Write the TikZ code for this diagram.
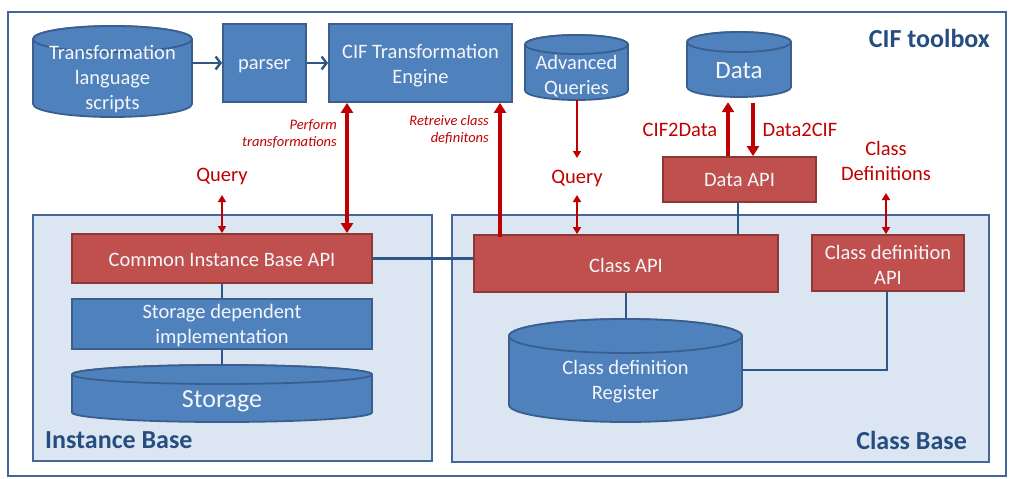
\documentclass[tikz,border=0pt]{standalone}
\usepackage{fontspec}
\setmainfont{Carlito}
\usetikzlibrary{arrows.meta}
\definecolor{bfill}{HTML}{4F81BD}
\definecolor{bline}{HTML}{3A5F8E}
\definecolor{rfill}{HTML}{C0504D}
\definecolor{rline}{HTML}{8C3836}
\definecolor{pfill}{HTML}{DCE6F2}
\definecolor{pline}{HTML}{43679A}
\definecolor{conn}{HTML}{2F5689}
\definecolor{darr}{HTML}{C00000}
\definecolor{ttl}{HTML}{264D7F}
\definecolor{wtxt}{HTML}{F4F6FA}
\newcommand\dbcyl[6]{%
  \pgfmathsetmacro\cylcx{(#2+#4)/2}%
  \pgfmathsetmacro\cylrx{(#4-#2)/2}%
  \pgfmathsetmacro\cylyt{#3+#6}%
  \pgfmathsetmacro\cylyb{#5-#6}%
  \pgfmathsetmacro\cylcy{(#3+#5)/2}%
  \pgfmathsetmacro\cylw{#4-#2}%
  \pgfmathsetmacro\cylh{#5-#3}%
  \filldraw[cylbody] (#2,\cylyt) -- (#2,\cylyb) arc[start angle=180,end angle=0,x radius=\cylrx,y radius=#6] -- (#4,\cylyt) arc[start angle=0,end angle=-180,x radius=\cylrx,y radius=#6] -- cycle;
  \draw[cylbody] (\cylcx,\cylyt) ellipse[x radius=\cylrx,y radius=#6];
  \node[inner sep=0pt,minimum width=\cylw pt,minimum height=\cylh pt] (#1) at (\cylcx,\cylcy) {};
}
\tikzset{
  cylbody/.style={fill=bfill,draw=bline,line width=1.8pt},
  bbox/.style={fill=bfill,draw=bline,line width=1.8pt},
  rbox/.style={fill=rfill,draw=rline,line width=1.8pt},
  panel/.style={fill=pfill,draw=pline,line width=1.8pt},
  wtext/.style={text=wtxt,font=\fontsize{20.5}{25}\selectfont,align=center,inner sep=0pt},
  rtext/.style={text=darr,font=\fontsize{20.5}{25}\selectfont,align=center,inner sep=0pt},
  itext/.style={text=darr,font=\fontsize{14.5}{17}\selectfont\itshape,align=right,inner sep=0pt},
  ttext/.style={text=ttl,font=\fontsize{26}{30}\selectfont\bfseries,inner sep=0pt},
  bconn/.style={draw=conn,line width=2.2pt},
  barrow/.style={draw=conn,line width=2.4pt,-{Straight Barb[length=5pt,width=13pt]}},
  thick red/.style={draw=darr,line width=3.5pt},
  thin red/.style={draw=darr,line width=1.6pt},
  tkt/.tip={Triangle[length=10pt,width=12pt]},
  tnt/.tip={Triangle[length=7pt,width=8pt]},
}
\begin{document}
\begin{tikzpicture}[x=1pt,y=-1pt]
\useasboundingbox (0,0) rectangle (1009,479);
% outer frame
\node[draw=pline,line width=2.5pt,minimum width=998pt,minimum height=464pt,inner sep=0pt] (frame) at (507,244) {};
\node[ttext,anchor=east] (toolbox) at (990,38) {CIF toolbox};
% panels
\node[panel,minimum width=399pt,minimum height=246pt,inner sep=0pt] (ipanel) at (232.5,338) {};
\node[panel,minimum width=537pt,minimum height=247pt,inner sep=0pt] (cpanel) at (720.5,338.5) {};
\node[ttext,anchor=west] (iblabel) at (45,440) {Instance Base};
\node[ttext,anchor=east] (cblabel) at (967,440) {Class Base};
% top row
\dbcyl{tls}{33}{26}{192}{117}{13}
\node[wtext] (tlst) at (112.5,79) {Transformation\\language\\scripts};
\node[bbox,minimum width=83pt,minimum height=78pt,inner sep=0pt] (parser) at (264.5,63) {};
\node[wtext] (parsert) at (264.5,66) {parser};
\node[bbox,minimum width=183pt,minimum height=78pt,inner sep=0pt] (engine) at (420.5,63) {};
\node[wtext] (enginet) at (420.5,66) {CIF Transformation\\Engine};
\dbcyl{advq}{525}{35}{628}{100}{9.5}
\node[wtext] (advqt) at (576.5,76) {Advanced\\Queries};
\dbcyl{data}{687}{32}{791}{97}{10}
\node[wtext,font=\fontsize{25}{30}\selectfont] (datat) at (739,71) {Data};
\node[rbox,minimum width=153pt,minimum height=45pt,inner sep=0pt] (dataapi) at (739.5,179.5) {};
\node[wtext] (dataapit) at (739.5,180) {Data API};
% instance base
\node[rbox,minimum width=300pt,minimum height=49pt,inner sep=0pt] (cib) at (222,258.5) {};
\node[wtext] (cibt) at (222,259.5) {Common Instance Base API};
\node[bbox,minimum width=300pt,minimum height=50pt,inner sep=0pt] (sdi) at (222,324) {};
\node[wtext] (sdit) at (222,325.5) {Storage dependent\\implementation};
\dbcyl{storage}{72}{365}{372}{422}{9.5}
\node[wtext,font=\fontsize{26}{30}\selectfont] (storaget) at (222,401) {Storage};
% class base
\node[rbox,minimum width=304pt,minimum height=57pt,inner sep=0pt] (capi) at (626,263.5) {};
\node[wtext] (capit) at (626,265) {Class API};
\node[rbox,minimum width=152pt,minimum height=56pt,inner sep=0pt] (cdapi) at (888,263) {};
\node[wtext] (cdapit) at (888,265) {Class definition\\API};
\dbcyl{reg}{509}{319}{742}{422}{17}
\node[wtext] (regt) at (625.5,381.5) {Class definition\\Register};
% red labels
\node[rtext] (q1) at (222,176.5) {Query};
\node[rtext] (q2) at (577,178.5) {Query};
\node[rtext] (c2d) at (680,130) {CIF2Data};
\node[rtext] (d2c) at (800,130) {Data2CIF};
\node[rtext] (cdefs) at (886,160.5) {Class\\Definitions};
\node[itext,anchor=east] (perf) at (337,133.5) {Perform\\transformations};
\node[itext,anchor=east] (retr) at (489,129.5) {Retreive class\\definitons};
% blue connectors
\draw[barrow] (tls.east |- parser.west) -- (parser.west);
\draw[barrow] (parser.east) -- (engine.west);
\draw[bconn] (cib.south) -- (sdi.north);
\draw[bconn] (sdi.south) -- (storage.north);
\draw[bconn] (cib.east) -- (cib.east -| capi.west);
\draw[bconn] (dataapi.south -| 738,0) -- (capi.north -| 738,0);
\draw[bconn] (capi.south) -- (reg.north -| capi.south);
\draw[bconn] (cdapi.south -| 887,0) |- (reg.east |- 0,370);
% red arrows
\draw[thin red,{tnt}-{tnt}] (q1.south |- 0,195) -- (q1.south |- cib.north);
\draw[thick red,{tkt}-{tkt}] (engine.south -| 347,0) -- (cib.north -| 347,0);
\draw[thick red,-{tkt}] ([yshift=-3pt]capi.north -| 500,0) -- (engine.south -| 500,0);
\draw[thin red,-{tnt}] (advq.south -| q2.north) -- (q2.north |- 0,158);
\draw[thin red,{tnt}-{tnt}] (q2.south |- 0,195) -- (q2.south |- capi.north);
\draw[thick red,-{tkt}] (dataapi.north -| 728,0) -- ([yshift=-5pt]data.south -| 728,0);
\draw[thick red,-{tkt}] ([yshift=-6pt]data.south -| 753,0) -- (dataapi.north -| 753,0);
\draw[thin red,{tnt}-{tnt}] (cdefs.south |- 0,193) -- (cdefs.south |- cdapi.north);
\end{tikzpicture}
\end{document}
